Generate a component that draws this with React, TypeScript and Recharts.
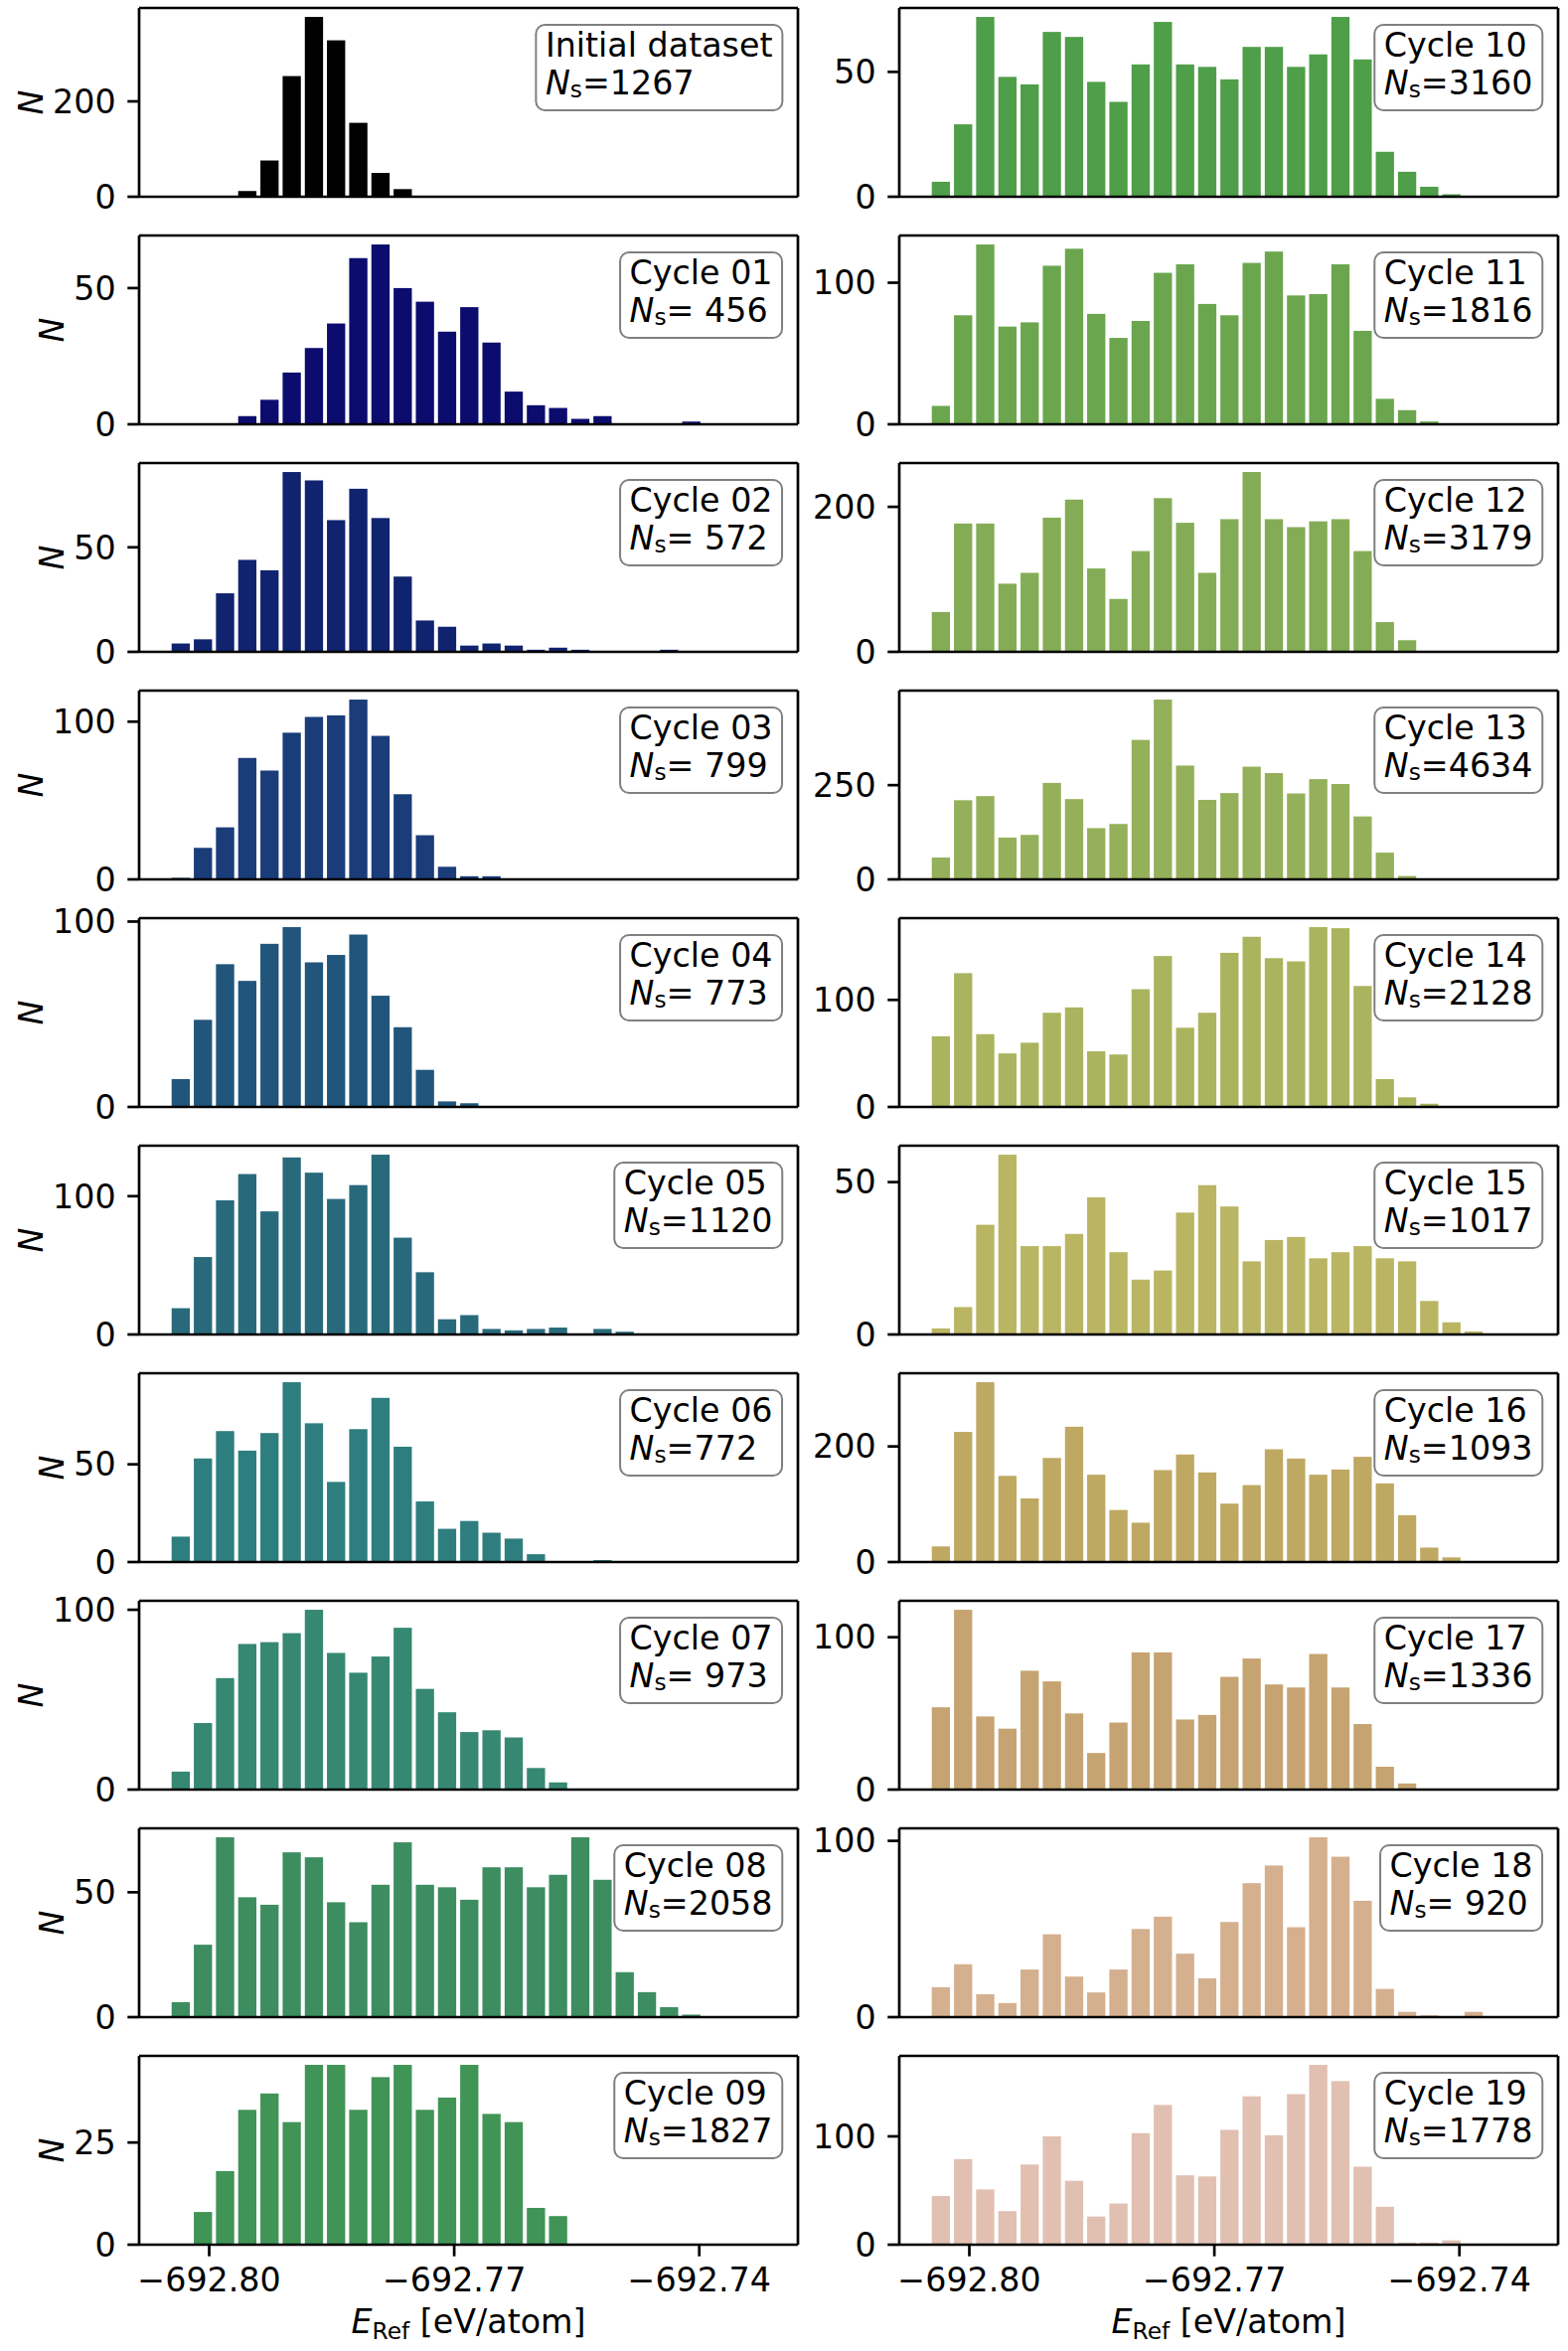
import React from 'react';
import { BarChart, Bar, XAxis, YAxis, ReferenceLine } from 'recharts';

// bin centres of the common histogram bins [eV/atom]
const binCenters = [
  -692.80347, -692.80075, -692.79804, -692.79532, -692.7926, -692.78988, -692.78716,
  -692.78445, -692.78173, -692.77901, -692.77629, -692.77357, -692.77086, -692.76814,
  -692.76542, -692.7627, -692.75998, -692.75727, -692.75455, -692.75183, -692.74911,
  -692.74639, -692.74368, -692.74096, -692.73824, -692.73552,
];

const initialCounts = [0, 0, 0, 12, 76, 253, 377, 328, 155, 50, 16, 2, 0, 0, 0, 0, 0, 0, 0, 0, 0, 0, 0, 0, 0, 0];
const cycle01Counts = [0, 0, 0, 3, 9, 19, 28, 37, 61, 66, 50, 45, 34, 43, 30, 12, 7, 6, 2, 3, 0, 0, 0, 1, 0, 0];
const cycle02Counts = [4, 6, 28, 44, 39, 86, 82, 63, 78, 64, 36, 15, 12, 3, 4, 3, 1, 2, 1, 0, 0, 0, 1, 0, 0, 0];
const cycle03Counts = [1, 20, 33, 77, 69, 93, 103, 104, 114, 91, 54, 28, 8, 2, 2, 0, 0, 0, 0, 0, 0, 0, 0, 0, 0, 0];
const cycle04Counts = [15, 47, 77, 68, 88, 97, 78, 82, 93, 60, 43, 20, 3, 2, 0, 0, 0, 0, 0, 0, 0, 0, 0, 0, 0, 0];
const cycle05Counts = [19, 56, 97, 116, 89, 128, 117, 98, 108, 130, 70, 45, 11, 14, 4, 3, 4, 5, 0, 4, 2, 0, 0, 0, 0, 0];
const cycle06Counts = [13, 53, 67, 57, 66, 92, 71, 41, 68, 84, 59, 31, 17, 21, 15, 12, 4, 0, 0, 1, 0, 0, 0, 0, 0, 0];
const cycle07Counts = [10, 37, 62, 81, 82, 87, 100, 76, 65, 74, 90, 56, 43, 32, 33, 29, 12, 4, 0, 0, 0, 0, 0, 0, 0, 0];
const cycle08Counts = [6, 29, 72, 48, 45, 66, 64, 46, 38, 53, 70, 53, 52, 47, 60, 60, 52, 57, 72, 55, 18, 10, 4, 1, 0, 0];
const cycle09Counts = [0, 8, 18, 33, 37, 30, 44, 44, 33, 41, 44, 33, 36, 44, 32, 30, 9, 7, 0, 0, 0, 0, 0, 0, 0, 0];
const cycle10Counts = [6, 29, 72, 48, 45, 66, 64, 46, 38, 53, 70, 53, 52, 47, 60, 60, 52, 57, 72, 55, 18, 10, 4, 1, 0, 0];
const cycle11Counts = [13, 77, 127, 69, 72, 112, 124, 78, 61, 73, 107, 113, 85, 77, 114, 122, 91, 92, 113, 66, 18, 10, 2, 0, 0, 0];
const cycle12Counts = [55, 177, 177, 94, 109, 185, 210, 115, 73, 139, 212, 178, 109, 183, 248, 183, 172, 180, 183, 139, 41, 16, 1, 0, 0, 0];
const cycle13Counts = [58, 210, 221, 111, 118, 256, 213, 136, 147, 370, 477, 302, 211, 229, 299, 282, 228, 266, 253, 167, 71, 9, 0, 0, 0, 0];
const cycle14Counts = [66, 125, 68, 50, 60, 88, 93, 52, 49, 110, 141, 74, 88, 144, 159, 139, 136, 168, 167, 113, 26, 9, 3, 0, 0, 0];
const cycle15Counts = [2, 9, 36, 59, 29, 29, 33, 45, 27, 18, 21, 40, 49, 42, 24, 31, 32, 25, 27, 29, 25, 24, 11, 4, 1, 0];
const cycle16Counts = [27, 225, 311, 149, 110, 180, 234, 151, 90, 68, 159, 186, 155, 101, 133, 195, 179, 151, 160, 182, 136, 81, 25, 8, 0, 0];
const cycle17Counts = [54, 118, 48, 40, 78, 71, 50, 24, 44, 90, 90, 46, 49, 74, 86, 69, 67, 89, 67, 43, 15, 4, 0, 0, 0, 0];
const cycle18Counts = [17, 30, 13, 8, 27, 47, 23, 14, 27, 50, 57, 36, 22, 54, 76, 86, 51, 102, 91, 66, 16, 3, 1, 0, 3, 0];
const cycle19Counts = [45, 79, 51, 31, 74, 100, 59, 26, 38, 103, 129, 64, 63, 106, 137, 101, 139, 166, 151, 72, 35, 2, 2, 4, 0, 1];

const panelCounts = [
  initialCounts, cycle01Counts, cycle02Counts, cycle03Counts, cycle04Counts,
  cycle05Counts, cycle06Counts, cycle07Counts, cycle08Counts, cycle09Counts,
  cycle10Counts, cycle11Counts, cycle12Counts, cycle13Counts, cycle14Counts,
  cycle15Counts, cycle16Counts, cycle17Counts, cycle18Counts, cycle19Counts,
];

const panelTitles = [
  'Initial dataset', 'Cycle 01', 'Cycle 02', 'Cycle 03', 'Cycle 04', 'Cycle 05', 'Cycle 06',
  'Cycle 07', 'Cycle 08', 'Cycle 09', 'Cycle 10', 'Cycle 11', 'Cycle 12', 'Cycle 13',
  'Cycle 14', 'Cycle 15', 'Cycle 16', 'Cycle 17', 'Cycle 18', 'Cycle 19',
];

const panelNs = [
  '1267', ' 456', ' 572', ' 799', ' 773', '1120', '772', ' 973', '2058', '1827',
  '3160', '1816', '3179', '4634', '2128', '1017', '1093', '1336', ' 920', '1778',
];

const yTickSets = [
  [0, 200], [0, 50], [0, 50], [0, 100], [0, 100], [0, 100], [0, 50], [0, 100], [0, 50], [0, 25],
  [0, 50], [0, 100], [0, 200], [0, 250], [0, 100], [0, 50], [0, 200], [0, 100], [0, 100], [0, 100],
];

const panelColors = [
  '#000000', '#0c0c6f', '#10236f', '#1a3c79', '#21557b', '#286a7c', '#2e7e7f', '#368873',
  '#3d8d61', '#409456', '#4f9e49', '#6ba64f', '#84ac56', '#95b05a', '#aab45e', '#bab563',
  '#bfa862', '#c6a472', '#d4b08f', '#e1c0b2',
];

const xTicks = [-692.8, -692.77, -692.74];
const X_DOMAIN: [number, number] = [-692.80858, -692.72792];

const FONT = '"DejaVu Sans", Verdana, sans-serif';
const FS = 33.3;
const AX_W = 663;
const AX_H = 190;
const ROW0 = 7.5;
const PITCH = 229;
const COL_X = [140, 905];
const Y_W = 135;
const PAD_T = 24;
const PAD_R = 6;
const X_H = 70;
const SPINE = 2.7;
const TICK_LEN = 11.7;

const fmtX = (v: number) => (v < 0 ? '\u2212' : '') + Math.abs(v).toFixed(2);

const HistBar = (props: any) => {
  const { x, y, width, height, fill } = props;
  if (!(height > 0.01)) return null;
  const inset = 0.85;
  return (
    <rect x={x + inset} y={y} width={Math.max(0, width - 2 * inset)} height={height} fill={fill} />
  );
};

const subStyle: React.CSSProperties = { fontSize: '0.7em', verticalAlign: '-0.14em', lineHeight: 0 };

function Panel({ idx }: { idx: number }) {
  const col = idx < 10 ? 0 : 1;
  const row = idx % 10;
  const counts = panelCounts[idx];
  const data = binCenters.map((x, i) => ({ x, n: counts[i] }));
  const yMax = Math.max(...counts) * 1.05;
  const axLeft = COL_X[col];
  const axTop = ROW0 + row * PITCH;
  const bottom = row === 9;
  const barSize = (AX_W * (binCenters[1] - binCenters[0])) / (X_DOMAIN[1] - X_DOMAIN[0]);
  const ticks = yTickSets[idx];
  const maxDigits = Math.max(...ticks.map((t) => String(t).length));
  const nCenterX = axLeft - TICK_LEN * 2 - maxDigits * 0.636 * FS - 21;
  const axisStroke = { stroke: '#000', strokeWidth: SPINE };
  const tickStroke = { stroke: '#000', strokeWidth: SPINE };
  return (
    <>
      <div style={{ position: 'absolute', left: axLeft - Y_W, top: axTop - PAD_T }}>
        <BarChart
          width={Y_W + AX_W + PAD_R}
          height={PAD_T + AX_H + X_H}
          data={data}
          margin={{ top: PAD_T, right: PAD_R, bottom: 0, left: 0 }}
          barCategoryGap={0}
          barGap={0}
        >
          <XAxis
            dataKey="x"
            type="number"
            domain={X_DOMAIN}
            allowDataOverflow
            ticks={xTicks}
            interval={0}
            tickFormatter={fmtX}
            tick={bottom ? { fill: '#000', fontSize: FS, fontFamily: FONT } : false}
            tickLine={tickStroke}
            tickSize={TICK_LEN}
            tickMargin={TICK_LEN}
            axisLine={axisStroke}
            height={X_H}
          />
          <YAxis
            type="number"
            domain={[0, yMax]}
            allowDataOverflow
            ticks={ticks}
            interval={0}
            width={Y_W}
            tick={{ fill: '#000', fontSize: FS, fontFamily: FONT }}
            tickLine={tickStroke}
            tickSize={TICK_LEN}
            tickMargin={TICK_LEN}
            axisLine={axisStroke}
          />
          <Bar
            dataKey="n"
            fill={panelColors[idx]}
            barSize={barSize}
            isAnimationActive={false}
            shape={HistBar}
          />
          <ReferenceLine y={yMax} stroke="#000" strokeWidth={SPINE} ifOverflow="visible" />
          <ReferenceLine x={X_DOMAIN[1]} stroke="#000" strokeWidth={SPINE} ifOverflow="visible" />
        </BarChart>
      </div>
      <div
        style={{
          position: 'absolute',
          left: axLeft + AX_W - 15,
          top: axTop + 16,
          transform: 'translateX(-100%)',
          border: '2.5px solid #808080',
          borderRadius: 10,
          background: '#fff',
          padding: '1px 8.5px 6.5px 8.5px',
          fontFamily: FONT,
          fontSize: FS,
          lineHeight: '38.3px',
          whiteSpace: 'pre',
          color: '#000',
        }}
      >
        <div>{panelTitles[idx]}</div>
        <div>
          <i>N</i>
          <span style={subStyle}>s</span>={panelNs[idx]}
        </div>
      </div>
      {col === 0 && (
        <div
          style={{
            position: 'absolute',
            left: nCenterX,
            top: axTop + AX_H / 2,
            transform: 'translate(-50%, -50%) rotate(-90deg)',
            fontFamily: FONT,
            fontSize: FS,
            fontStyle: 'italic',
            lineHeight: 1,
            color: '#000',
          }}
        >
          N
        </div>
      )}
      {bottom && (
        <div
          style={{
            position: 'absolute',
            left: axLeft,
            top: 2318,
            width: AX_W,
            textAlign: 'center',
            fontFamily: FONT,
            fontSize: FS,
            lineHeight: '38px',
            whiteSpace: 'pre',
            color: '#000',
          }}
        >
          <i>E</i>
          <span style={{ fontSize: '0.7em', verticalAlign: '-0.25em', lineHeight: 0 }}>Ref</span> [eV/atom]
        </div>
      )}
    </>
  );
}

export default function App() {
  return (
    <div
      style={{
        position: 'absolute',
        left: 0,
        top: 0,
        width: 1578,
        height: 2366,
        background: '#fff',
        overflow: 'hidden',
      }}
    >
      {panelCounts.map((_, i) => (
        <Panel key={i} idx={i} />
      ))}
    </div>
  );
}
